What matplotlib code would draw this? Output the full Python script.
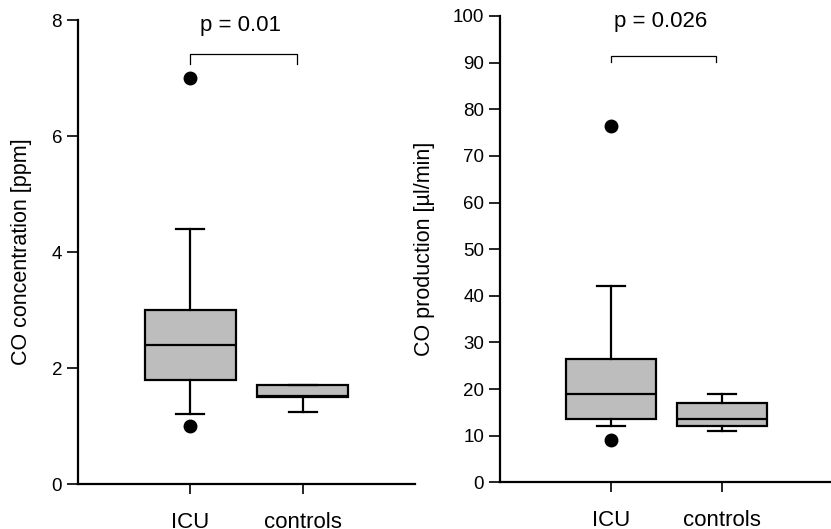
import matplotlib
matplotlib.use("Agg")
from matplotlib import pyplot as plt

plt.rcParams['font.family'] = ['Liberation Sans', 'DejaVu Sans']

groups = ["ICU", "controls"]

# CO concentration [ppm]
conc_whislo = [1.2, 1.25]
conc_q1 = [1.8, 1.5]
conc_med = [2.4, 1.52]
conc_q3 = [3.0, 1.7]
conc_whishi = [4.4, 1.7]
conc_fliers = [[7.0, 1.0], []]

# CO production [ul/min]
prod_whislo = [12.0, 11.0]
prod_q1 = [13.5, 12.2]
prod_med = [19.0, 13.5]
prod_q3 = [26.5, 17.0]
prod_whishi = [42.0, 19.0]
prod_fliers = [[76.5, 9.0], []]


def make_stats(lo, q1, med, q3, hi, fl):
    return [dict(whislo=lo[i], q1=q1[i], med=med[i], q3=q3[i], whishi=hi[i],
                 fliers=fl[i], label=groups[i]) for i in range(len(groups))]


def draw(ax, stats, ylim, yticks, ylabel, label_x, ptext, bracket_y, drop, text_y):
    ax.bxp(stats, positions=[1, 2], widths=0.81, capwidths=0.25,
           patch_artist=True, showfliers=True,
           boxprops=dict(facecolor='#bdbdbd', edgecolor='black', lw=1.6),
           medianprops=dict(color='black', lw=1.6),
           whiskerprops=dict(color='black', lw=1.6),
           capprops=dict(color='black', lw=1.6),
           flierprops=dict(marker='o', markerfacecolor='black',
                           markeredgecolor='black', markersize=9))
    ax.set_xlim(0, 3)
    ax.set_ylim(*ylim)
    ax.set_yticks(yticks)
    ax.set_xticks([1, 2])
    ax.set_xticklabels(groups)
    ax.set_ylabel(ylabel, fontsize=15.5)
    ax.yaxis.set_label_coords(label_x, 0.5)
    ax.tick_params(axis='y', length=8, width=1.2, labelsize=13.5, direction='out')
    ax.tick_params(axis='x', length=7, width=1.2, labelsize=16, pad=13)
    for s in ['top', 'right']:
        ax.spines[s].set_visible(False)
    for s in ['left', 'bottom']:
        ax.spines[s].set_linewidth(1.6)
    # significance bracket
    ax.plot([1, 1, 1.95, 1.95], [bracket_y - drop, bracket_y, bracket_y, bracket_y - drop],
            color='black', lw=0.9, clip_on=False)
    ax.text(1.45, text_y, ptext, ha='center', va='center', fontsize=16)


fig = plt.figure(figsize=(8.31, 5.29), dpi=100)
ax1 = fig.add_axes([0.0939, 0.085, 0.4055, 0.877])
ax2 = fig.add_axes([0.6017, 0.088, 0.4007, 0.882])

draw(ax1, make_stats(conc_whislo, conc_q1, conc_med, conc_q3, conc_whishi, conc_fliers),
     (0, 8), [0, 2, 4, 6, 8], "CO concentration [ppm]", -0.136,
     "p = 0.01", 7.41, 0.16, 7.9)
draw(ax2, make_stats(prod_whislo, prod_q1, prod_med, prod_q3, prod_whishi, prod_fliers),
     (0, 100), list(range(0, 101, 10)), "CO production [µl/min]", -0.195,
     "p = 0.026", 91.5, 1.3, 98.8)

fig.savefig("out.png", dpi=100)
